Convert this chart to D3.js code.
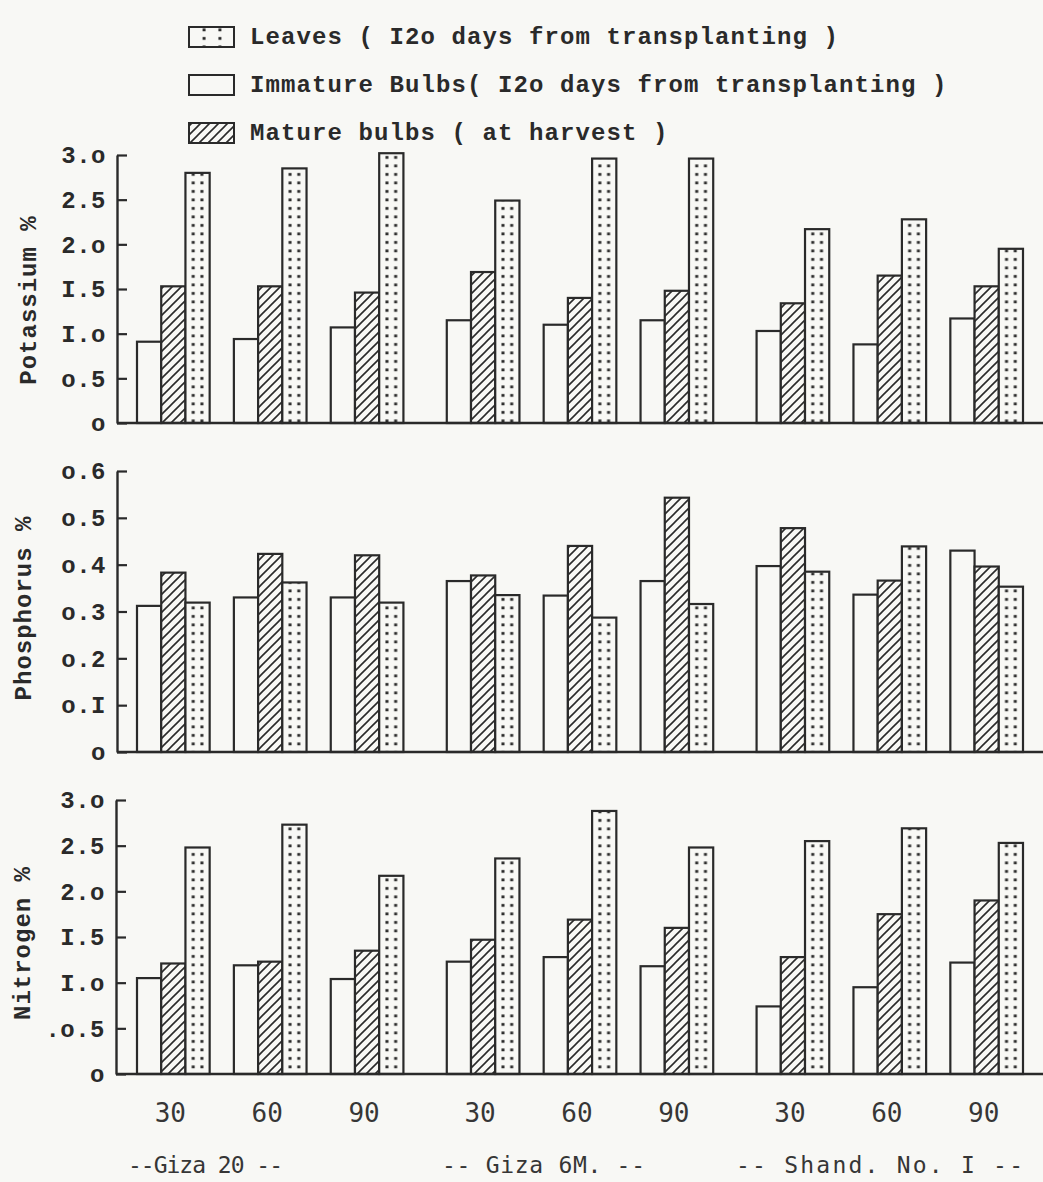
<!DOCTYPE html>
<html>
<head>
<meta charset="utf-8">
<script src="https://cdn.jsdelivr.net/npm/d3@7"></script>
<style>
  html, body { margin: 0; padding: 0; background: #f8f8f5; }
  svg { display: block; }
</style>
</head>
<body>
<svg id="chart" width="1043" height="1182"></svg>
<script>
// ---- categories ----
const varieties = ["--Giza 20 --", "-- Giza 6M. --", "-- Shand. No. I --"];
const ages = ["30", "60", "90"];
const seriesKeys = ["immature", "mature", "leaves"];
const legendKeys = ["leaves", "immature", "mature"];
const legendLabels = [
  "Leaves ( I2o days from transplanting )",
  "Immature Bulbs( I2o days from transplanting )",
  "Mature bulbs ( at harvest )"
];

// ---- values, one entry per variety x age (Giza 20: 30,60,90; Giza 6M: 30,60,90; Shand. No. I: 30,60,90) ----
const potassiumImmature = [0.91, 0.94, 1.07, 1.15, 1.10, 1.15, 1.03, 0.88, 1.17];
const potassiumMature   = [1.53, 1.53, 1.46, 1.69, 1.40, 1.48, 1.34, 1.65, 1.53];
const potassiumLeaves   = [2.80, 2.85, 3.02, 2.49, 2.96, 2.96, 2.17, 2.28, 1.95];

const phosphorusImmature = [0.312, 0.330, 0.330, 0.365, 0.334, 0.365, 0.397, 0.336, 0.430];
const phosphorusMature   = [0.383, 0.423, 0.420, 0.377, 0.440, 0.543, 0.478, 0.366, 0.396];
const phosphorusLeaves   = [0.319, 0.362, 0.319, 0.335, 0.287, 0.316, 0.385, 0.439, 0.353];

const nitrogenImmature = [1.05, 1.19, 1.04, 1.23, 1.28, 1.18, 0.74, 0.95, 1.22];
const nitrogenMature   = [1.21, 1.23, 1.35, 1.47, 1.69, 1.60, 1.28, 1.75, 1.90];
const nitrogenLeaves   = [2.48, 2.73, 2.17, 2.36, 2.88, 2.48, 2.55, 2.69, 2.53];

// ---- tick values and their typed labels ----
const potassiumTicks = [0, 0.5, 1, 1.5, 2, 2.5, 3];
const potassiumTickLabels = ["o", "o.5", "I.o", "I.5", "2.o", "2.5", "3.o"];
const phosphorusTicks = [0, 0.1, 0.2, 0.3, 0.4, 0.5, 0.6];
const phosphorusTickLabels = ["o", "o.I", "o.2", "o.3", "o.4", "o.5", "o.6"];
const nitrogenTicks = [0, 0.5, 1, 1.5, 2, 2.5, 3];
const nitrogenTickLabels = ["o", ".o.5", "I.o", "I.5", "2.o", "2.5", "3.o"];

// ---- styling ----
const PAPER = "#f8f8f5";
const INK = "#2a2a2a";
const TYPE = "'Liberation Mono', 'DejaVu Sans Mono', monospace";
const TYPE2 = "'DejaVu Sans Mono', 'Liberation Mono', monospace";

const svg = d3.select("#chart");
svg.append("rect").attr("width", 1043).attr("height", 1182).attr("fill", PAPER);

// ---- shared horizontal layout ----
const xVariety = d3.scaleBand().domain(varieties).range([137, 1023]).paddingInner(0.14).paddingOuter(0);
const xAge = d3.scaleBand().domain(ages).range([0, xVariety.bandwidth()]).paddingInner(0.25).paddingOuter(0);
const xSeries = d3.scaleBand().domain(seriesKeys).range([0, xAge.bandwidth()]);
const groups = d3.cross(varieties, ages).map(([v, a], i) => ({ v, a, i, x: xVariety(v) + xAge(a) }));

// ---- fill patterns ----
const defs = svg.append("defs");
const hatch = defs.append("pattern").attr("id", "hatch")
  .attr("patternUnits", "userSpaceOnUse").attr("width", 9).attr("height", 9);
hatch.append("rect").attr("width", 9).attr("height", 9).attr("fill", PAPER);
hatch.append("path").attr("d", "M-1,10 L10,-1 M-3,3 L3,-3 M6,12 L12,6")
  .attr("stroke", INK).attr("stroke-width", 1.6);

function dotPattern(id, x0, w) {
  const p = defs.append("pattern").attr("id", id)
    .attr("patternUnits", "userSpaceOnUse").attr("x", x0).attr("y", 0)
    .attr("width", w).attr("height", 8.5);
  p.append("rect").attr("width", w).attr("height", 8.5).attr("fill", PAPER);
  [0.32, 0.68].forEach(f => p.append("rect")
    .attr("x", w * f - 1.5).attr("y", 3).attr("width", 3).attr("height", 2.8).attr("fill", INK));
}
groups.forEach(g => dotPattern("dots-" + g.i, g.x + xSeries("leaves"), xSeries.bandwidth()));
dotPattern("dots-legend", 190, 44);

function fillFor(key, gi) {
  if (key === "immature") return PAPER;
  if (key === "mature") return "url(#hatch)";
  return "url(#dots-" + gi + ")";
}

// ---- panels ----
const panels = [
  { title: "Potassium %", domain: [0, 3], ticks: potassiumTicks, tickLabels: potassiumTickLabels,
    values: { immature: potassiumImmature, mature: potassiumMature, leaves: potassiumLeaves },
    top: 155, bottom: 423, axisX: 117, titleX: 29, titleY: 300 },
  { title: "Phosphorus %", domain: [0, 0.6], ticks: phosphorusTicks, tickLabels: phosphorusTickLabels,
    values: { immature: phosphorusImmature, mature: phosphorusMature, leaves: phosphorusLeaves },
    top: 471, bottom: 752, axisX: 117, titleX: 24, titleY: 608 },
  { title: "Nitrogen %", domain: [0, 3], ticks: nitrogenTicks, tickLabels: nitrogenTickLabels,
    values: { immature: nitrogenImmature, mature: nitrogenMature, leaves: nitrogenLeaves },
    top: 800, bottom: 1074, axisX: 116, titleX: 23, titleY: 943 }
];

panels.forEach(p => {
  const y = d3.scaleLinear().domain(p.domain).range([p.bottom, p.top]);
  const g = svg.append("g");

  // bars
  seriesKeys.forEach(key => {
    g.append("g").selectAll("rect")
      .data(groups)
      .join("rect")
      .attr("x", d => d.x + xSeries(key))
      .attr("width", xSeries.bandwidth())
      .attr("y", d => y(p.values[key][d.i]))
      .attr("height", d => y(0) - y(p.values[key][d.i]))
      .attr("fill", d => fillFor(key, d.i))
      .attr("stroke", INK)
      .attr("stroke-width", 2.2);
  });

  // baseline running to the right edge
  g.append("line")
    .attr("x1", p.axisX).attr("x2", 1043)
    .attr("y1", y(0)).attr("y2", y(0))
    .attr("stroke", INK).attr("stroke-width", 2.4);

  // y axis with inward ticks
  const labelOf = new Map(p.ticks.map((t, i) => [t, p.tickLabels[i]]));
  const axis = d3.axisLeft(y).tickValues(p.ticks)
    .tickSizeInner(-10).tickSizeOuter(0).tickPadding(11)
    .tickFormat(t => labelOf.get(t));
  const ax = g.append("g").attr("transform", `translate(${p.axisX},0)`).call(axis);
  ax.select(".domain").attr("stroke", INK).attr("stroke-width", 2.4);
  ax.selectAll(".tick line").attr("stroke", INK).attr("stroke-width", 2.2);
  ax.selectAll(".tick text")
    .attr("fill", INK)
    .style("font-family", TYPE).style("font-weight", "bold")
    .style("font-size", "24px").style("letter-spacing", "0.5px");

  // axis title
  g.append("text")
    .attr("transform", `translate(${p.titleX},${p.titleY}) rotate(-90)`)
    .attr("text-anchor", "middle").attr("dominant-baseline", "central")
    .attr("fill", INK)
    .style("font-family", TYPE).style("font-weight", "bold")
    .style("font-size", "24px").style("letter-spacing", "1px")
    .text(p.title);
});

// ---- age labels under the last panel ----
svg.append("g").selectAll("text")
  .data(groups)
  .join("text")
  .attr("x", d => d.x + xAge.bandwidth() / 2 - 3)
  .attr("y", 1113)
  .attr("text-anchor", "middle").attr("dominant-baseline", "central")
  .attr("fill", "#363636")
  .style("font-family", TYPE2).style("font-size", "26px")
  .text(d => d.a);

// ---- variety labels (typed slightly left of each block) ----
const varietyLabelStart = [128, 442, 736];
const varietyLabelWidth = [155, 203, 287];
svg.append("g").selectAll("text")
  .data(varieties)
  .join("text")
  .attr("x", (d, i) => varietyLabelStart[i])
  .attr("y", 1165)
  .attr("textLength", (d, i) => varietyLabelWidth[i])
  .attr("lengthAdjust", "spacing")
  .attr("dominant-baseline", "central")
  .attr("fill", "#363636")
  .style("font-family", TYPE2).style("font-size", "23px")
  .text(d => d);

// ---- legend ----
const legendRows = [37, 85, 133];
const legend = svg.append("g");
legendKeys.forEach((key, i) => {
  const cy = legendRows[i];
  legend.append("rect")
    .attr("x", 189).attr("y", cy - 10).attr("width", 45).attr("height", 20)
    .attr("fill", key === "immature" ? PAPER : key === "mature" ? "url(#hatch)" : "url(#dots-legend)")
    .attr("stroke", INK).attr("stroke-width", 2);
  legend.append("text")
    .attr("x", 250).attr("y", cy)
    .attr("dominant-baseline", "central")
    .attr("fill", INK)
    .style("font-family", TYPE).style("font-weight", "bold")
    .style("font-size", "24px").style("letter-spacing", "1.1px")
    .text(legendLabels[i]);
});
</script>
</body>
</html>
